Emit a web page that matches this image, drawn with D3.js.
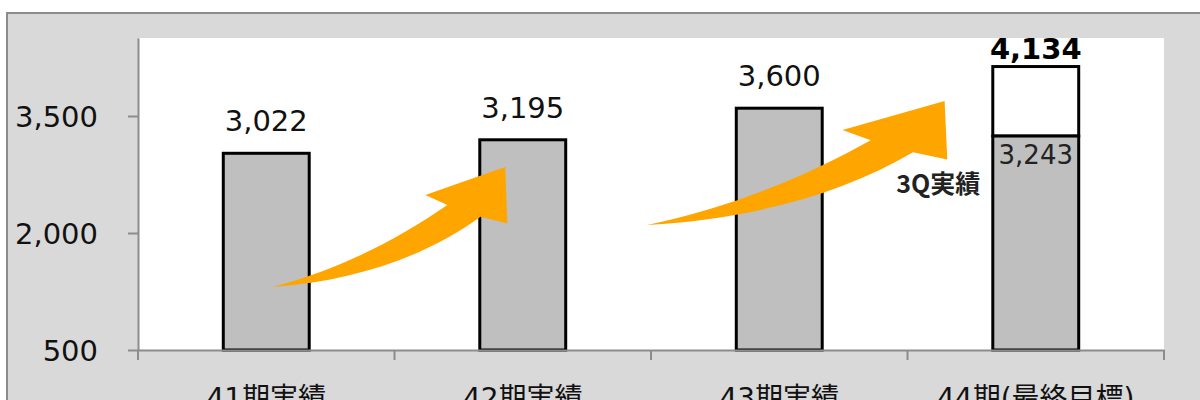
<!DOCTYPE html>
<html>
<head>
<meta charset="utf-8">
<script src="https://cdn.jsdelivr.net/npm/d3@7"></script>
<style>
  body { margin: 0; background: #fff; }
  svg { display: block; }
</style>
</head>
<body>
<div id="chart"></div>
<script>
// データ
const categories = ["41期実績", "42期実績", "43期実績", "44期(最終目標)"];
const actual = [3022, 3195, 3600, 3243];       // 灰色の棒
const target = [null, null, null, 4134];        // 44期の目標(白い部分)
const yTicks = [500, 2000, 3500];
const note = "3Q実績";

const width = 1200, height = 400;
const font = "'DejaVu Sans', 'Noto Sans CJK JP', sans-serif";

const svg = d3.select("#chart").append("svg")
  .attr("width", width)
  .attr("height", height);

// 外枠(グレーのパネル)
svg.append("rect")
  .attr("x", 7).attr("y", 13)
  .attr("width", 1220).attr("height", 420)
  .attr("fill", "#d9d9d9")
  .attr("stroke", "#8c8c8c")
  .attr("stroke-width", 2);

const x = d3.scaleBand()
  .domain(categories)
  .range([138, 1164]);

const y = d3.scaleLinear()
  .domain([500, 4500])
  .range([350, 38]);

// プロットエリア
svg.append("rect")
  .attr("x", 139).attr("y", y(4500))
  .attr("width", 1164 - 139).attr("height", y(500) - y(4500))
  .attr("fill", "#fff");

const barW = x.bandwidth() * 0.335;
const cx = d => x(d) + x.bandwidth() / 2;

// 目標の白い棒(後ろ)
svg.selectAll("rect.target")
  .data(categories.filter((c, i) => target[i] != null))
  .enter().append("rect")
    .attr("class", "target")
    .attr("x", d => cx(d) - barW / 2)
    .attr("y", d => y(target[categories.indexOf(d)]))
    .attr("width", barW)
    .attr("height", d => y(actual[categories.indexOf(d)]) - y(target[categories.indexOf(d)]))
    .attr("fill", "#fff")
    .attr("stroke", "#000")
    .attr("stroke-width", 3);

svg.selectAll("rect.bar")
  .data(categories)
  .enter().append("rect")
    .attr("class", "bar")
    .attr("x", d => cx(d) - barW / 2)
    .attr("y", (d, i) => y(actual[i]))
    .attr("width", barW)
    .attr("height", (d, i) => y(500) - y(actual[i]))
    .attr("fill", "#bfbfbf")
    .attr("stroke", "#000")
    .attr("stroke-width", 3);

// 矢印 (正規化した形を箱に合わせて描く)
const arrowShape = t => {
  const p = (u, v) => t(u, v).join(",");
  return `M${p(0, 0)} C${p(0.3, 0.15)} ${p(0.55, 0.42)} ${p(0.745, 0.683)}` +
    ` L${p(0.651, 0.767)} L${p(0.991, 1)} L${p(1, 0.528)} L${p(0.886, 0.586)}` +
    ` C${p(0.65, 0.25)} ${p(0.35, 0.05)} ${p(0, 0)} Z`;
};
// [始点カテゴリ位置, 始点値, 終点カテゴリ位置, 終点値]
const arrows = [
  [0.023, 1308, 0.94, 2846],
  [1.485, 2103, 2.655, 3692]
];
const step = x.step();
const xPos = f => x(categories[0]) + x.bandwidth() / 2 + f * step;

svg.selectAll("path.arrow")
  .data(arrows)
  .enter().append("path")
    .attr("class", "arrow")
    .attr("fill", "#ffa500")
    .attr("d", a => {
      const x0 = xPos(a[0]), y0 = y(a[1]);
      const w = xPos(a[2]) - x0, h = y0 - y(a[3]);
      return arrowShape((u, v) => [+(x0 + u * w).toFixed(1), +(y0 - v * h).toFixed(1)]);
    });

// 値ラベル
svg.selectAll("text.val")
  .data(categories.slice(0, 3))
  .enter().append("text")
    .attr("class", "val")
    .attr("x", d => cx(d))
    .attr("y", (d, i) => y(actual[i]) - 22)
    .attr("text-anchor", "middle")
    .attr("font-family", font)
    .attr("font-size", 29)
    .attr("fill", "#111")
    .text((d, i) => d3.format(",")(actual[i]));

svg.append("text")
  .attr("x", cx(categories[3]))
  .attr("y", y(target[3]) - 8)
  .attr("text-anchor", "middle")
  .attr("font-family", font)
  .attr("font-size", 29)
  .attr("font-weight", "bold")
  .attr("fill", "#000")
  .text(d3.format(",")(target[3]));

svg.append("text")
  .attr("x", cx(categories[3]))
  .attr("y", y(actual[3]) + 28)
  .attr("text-anchor", "middle")
  .attr("font-family", font)
  .attr("font-size", 26)
  .attr("fill", "#222")
  .text(d3.format(",")(actual[3]));

svg.append("text")
  .attr("x", xPos(2.62))
  .attr("y", 193)
  .attr("text-anchor", "middle")
  .attr("font-family", "'Noto Sans CJK JP', sans-serif")
  .attr("font-size", 25)
  .attr("font-weight", "bold")
  .attr("fill", "#222")
  .text(note);

// 軸
const yAxis = svg.append("g")
  .attr("transform", "translate(138,0)")
  .call(d3.axisLeft(y).tickValues(yTicks).tickSize(10).tickSizeOuter(0)
    .tickPadding(30).tickFormat(d3.format(",")));
yAxis.select(".domain").attr("stroke", "#8c8c8c").attr("stroke-width", 2);
yAxis.selectAll(".tick line").attr("stroke", "#8c8c8c").attr("stroke-width", 2);
yAxis.selectAll("text")
  .attr("font-family", font)
  .attr("font-size", 29)
  .attr("fill", "#111")
  .attr("dy", "0.35em");

const xAxis = svg.append("g")
  .attr("transform", `translate(0,${y(500)})`)
  .call(d3.axisBottom(x).tickSize(0).tickPadding(38));
xAxis.select(".domain").attr("stroke", "#8c8c8c").attr("stroke-width", 2);
xAxis.selectAll("text")
  .attr("font-family", font)
  .attr("font-size", 28)
  .attr("fill", "#111");

// カテゴリ境界の目盛り
svg.selectAll("line.sep")
  .data(categories.map(c => x(c)).concat([x.range()[1]]))
  .enter().append("line")
    .attr("class", "sep")
    .attr("x1", d => d).attr("x2", d => d)
    .attr("y1", y(500)).attr("y2", y(500) + 10)
    .attr("stroke", "#8c8c8c")
    .attr("stroke-width", 2);
</script>
</body>
</html>
